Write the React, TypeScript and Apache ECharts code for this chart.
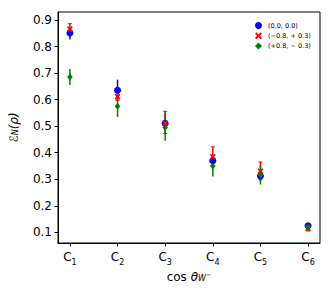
import React, { useEffect, useRef } from "react";
import * as echarts from "echarts";

const categories = ["1", "2", "3", "4", "5", "6"];
const yTicks = [0.1, 0.2, 0.3, 0.4, 0.5, 0.6, 0.7, 0.8, 0.9];

const blueName = "(0.0, 0.0)";
const redName = "(−0.8, + 0.3)";
const greenName = "(+0.8, − 0.3)";

const blueVal = [0.851, 0.635, 0.51, 0.37, 0.312, 0.125];
const blueLow = [0.826, 0.595, 0.47, 0.35, 0.29, 0.115];
const blueHigh = [0.87, 0.675, 0.55, 0.39, 0.333, 0.135];

const redVal = [0.866, 0.611, 0.512, 0.385, 0.33, 0.115];
const redLow = [0.846, 0.597, 0.472, 0.352, 0.3, 0.105];
const redHigh = [0.886, 0.627, 0.556, 0.422, 0.365, 0.125];

const greenVal = [0.685, 0.575, 0.495, 0.35, 0.316, 0.12];
const greenLow = [0.655, 0.535, 0.445, 0.31, 0.28, 0.11];
const greenHigh = [0.715, 0.615, 0.545, 0.39, 0.352, 0.13];

const BLUE = "#0000ff";
const RED = "#ff0000";
const GREEN = "#008000";
const FONT = "DejaVu Sans";
const xPath = "path://M0,2 L2,0 L5,3 L8,0 L10,2 L7,5 L10,8 L8,10 L5,7 L2,10 L0,8 L3,5 Z";

function errSeries(low: number[], high: number[], color: string, cap: boolean) {
  return {
    type: "custom",
    silent: true,
    data: low.map((l, i) => [i, l, high[i]]),
    renderItem: (params: any, api: any) => {
      const x = api.value(0);
      const p1 = api.coord([x, api.value(1)]);
      const p2 = api.coord([x, api.value(2)]);
      const children: any[] = [
        { type: "line", shape: { x1: p1[0], y1: p1[1], x2: p2[0], y2: p2[1] }, style: { stroke: color, lineWidth: 1.5 } },
      ];
      if (cap) {
        children.push({ type: "line", shape: { x1: p1[0] - 2, y1: p1[1], x2: p1[0] + 2, y2: p1[1] }, style: { stroke: color, lineWidth: 1 } });
        children.push({ type: "line", shape: { x1: p2[0] - 2, y1: p2[1], x2: p2[0] + 2, y2: p2[1] }, style: { stroke: color, lineWidth: 1 } });
      }
      return { type: "group", children };
    },
  };
}

function pointSeries(name: string, vals: number[], color: string, symbol: string, size: any) {
  return {
    type: "scatter",
    name,
    data: vals.map((v, i) => [i, v]),
    symbol,
    symbolSize: size,
    itemStyle: { color, opacity: 1 },
  };
}

export default function App() {
  const ref = useRef<HTMLDivElement>(null);
  useEffect(() => {
    const chart = echarts.init(ref.current!, null, { renderer: "svg" });
    chart.setOption({
      animation: false,
      backgroundColor: "#ffffff",
      textStyle: { fontFamily: FONT },
      grid: { left: 55, top: 12, right: 12, bottom: 48, show: true, borderColor: "#000", borderWidth: 1 },
      legend: {
        orient: "vertical",
        left: 250,
        top: 17,
        itemWidth: 7,
        itemHeight: 7,
        itemGap: 3.3,
        textStyle: { fontSize: 6.5, fontFamily: FONT, color: "#000", padding: [0, 0, 0, 1] },
        data: [
          { name: blueName, icon: "circle" },
          { name: redName, icon: xPath },
          { name: greenName, icon: "diamond" },
        ],
      },
      xAxis: {
        type: "value",
        min: -0.25,
        max: 5.25,
        splitLine: { show: false },
        axisLine: { show: true, onZero: false, lineStyle: { color: "#000" } },
        axisTick: { show: true, length: 3.5, customValues: [0, 1, 2, 3, 4, 5], lineStyle: { color: "#000" } },
        axisLabel: {
          customValues: [0, 1, 2, 3, 4, 5],
          margin: 6,
          formatter: (v: number) => `{c|C}{s|${categories[Math.round(v)]}}`,
          rich: {
            c: { fontSize: 12, fontFamily: FONT, color: "#000", verticalAlign: "bottom", lineHeight: 14 },
            s: { fontSize: 8, fontFamily: FONT, color: "#000", verticalAlign: "bottom", lineHeight: 9, padding: [0, 0, -3, 0] },
          },
        },
        name: "cos {i|θ}{s|W}{p|−}",
        nameLocation: "middle",
        nameGap: 22,
        nameTextStyle: {
          fontSize: 12,
          fontFamily: FONT,
          color: "#000",
          rich: {
            i: { fontSize: 12, fontStyle: "italic", fontFamily: FONT, color: "#000" },
            s: { fontSize: 8, fontStyle: "italic", fontFamily: FONT, color: "#000", padding: [0, 0, -3, 0] },
            p: { fontSize: 6.5, fontFamily: FONT, color: "#000", padding: [0, 0, 4, 0] },
          },
        },
      },
      yAxis: {
        type: "value",
        min: 0.0597,
        max: 0.93,
        splitLine: { show: false },
        axisLine: { show: true, onZero: false, lineStyle: { color: "#000" } },
        axisTick: { show: true, length: 3.5, customValues: yTicks, lineStyle: { color: "#000" } },
        axisLabel: {
          customValues: yTicks,
          margin: 6,
          fontSize: 12,
          fontFamily: FONT,
          color: "#000",
          formatter: (v: number) => v.toFixed(1),
        },
        name: "{e|ℰ}{s|N}{t|(ρ)}",
        nameLocation: "middle",
        nameRotate: 90,
        nameGap: 38,
        nameTextStyle: {
          fontSize: 12,
          fontFamily: FONT,
          color: "#000",
          rich: {
            e: { fontSize: 12, fontStyle: "italic", fontFamily: FONT, color: "#000" },
            s: { fontSize: 8, fontStyle: "italic", fontFamily: FONT, color: "#000", padding: [0, 0, -3, 0] },
            t: { fontSize: 12, fontStyle: "italic", fontFamily: FONT, color: "#000" },
          },
        },
      },
      series: [
        errSeries(blueLow, blueHigh, BLUE, false),
        pointSeries(blueName, blueVal, BLUE, "circle", 7),
        errSeries(redLow, redHigh, RED, true),
        pointSeries(redName, redVal, RED, xPath, 6),
        errSeries(greenLow, greenHigh, GREEN, false),
        pointSeries(greenName, greenVal, GREEN, "diamond", [5.5, 7]),
      ],
    });
    return () => chart.dispose();
  }, []);
  return <div ref={ref} style={{ position: "fixed", left: 0, top: 0, width: 332, height: 291 }} />;
}
